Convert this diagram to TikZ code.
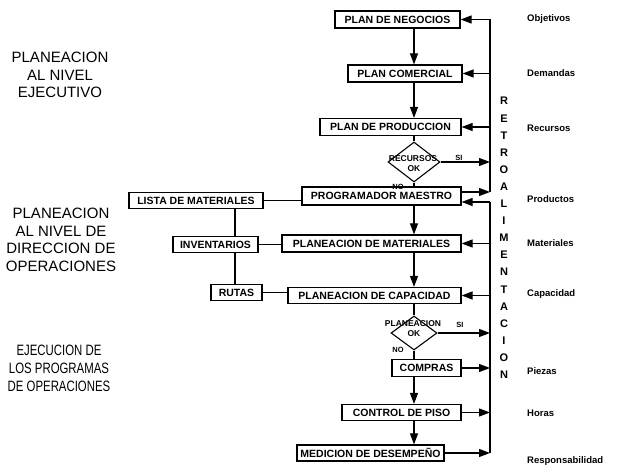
\documentclass[tikz,border=0pt]{standalone}
\usepackage{fontspec}
\usepackage{graphicx}
\setmainfont{Liberation Sans}
\usetikzlibrary{arrows.meta,shapes.geometric}
\begin{document}
\begin{tikzpicture}[x=1pt,y=-1pt,
  box/.style={draw,line width=1.2pt,inner sep=0pt,font=\bfseries\fontsize{10.5}{12}\selectfont},
  bx/.style 2 args={box,minimum width=#1pt,minimum height=#2pt},
  arr/.style={line width=1.1pt,-{Triangle[length=11pt,width=8pt]}},
  ln/.style={line width=1.1pt},
  dia/.style={draw,line width=1.1pt,shape=diamond,inner sep=0pt},
  small/.style={font=\bfseries\fontsize{8.5}{9}\selectfont,inner sep=0pt},
  tiny/.style={font=\bfseries\fontsize{7.5}{8}\selectfont,inner sep=0pt},
  side/.style={font=\bfseries\fontsize{9.5}{11}\selectfont,anchor=west,inner sep=0pt},
  lvl/.style={align=center,font=\fontsize{15}{17.5}\selectfont,inner sep=0pt}]
\useasboundingbox (0,0) rectangle (618,468);

% main column
\node[bx={125}{17}] (neg) at (397.5,19.5) {PLAN DE NEGOCIOS};
\node[bx={114}{17}] (com) at (405,73.5) {PLAN COMERCIAL};
\node[bx={141}{17}] (prod) at (390.5,127) {PLAN DE PRODUCCION};
\node[dia,minimum width=52pt,minimum height=40pt] (d1) at (414,162) {};
\node[bx={159}{18}] (prog) at (381.5,196) {PROGRAMADOR MAESTRO};
\node[bx={179}{17}] (mat) at (371.5,243.5) {PLANEACION DE MATERIALES};
\node[bx={173}{16}] (cap) at (374.5,295.5) {PLANEACION DE CAPACIDAD};
\node[dia,minimum width=46pt,minimum height=34pt] (d2) at (414,333) {};
\node[bx={69}{17}] (compras) at (426.5,368) {COMPRAS};
\node[bx={119}{16}] (control) at (401.5,412.5) {CONTROL DE PISO};
\node[bx={147}{16}] (med) at (370.5,453) {MEDICION DE DESEMPEÑO};

% left column
\node[bx={134}{16}] (lista) at (196,200.5) {LISTA DE MATERIALES};
\node[bx={85}{16}] (inv) at (215.5,244.5) {INVENTARIOS};
\node[bx={51}{16}] (rutas) at (236.5,292.5) {RUTAS};

% diamond texts
\node[small] (r1) at (413,159) {RECURSOS};
\node[small] (r2) at (414,169) {OK};
\node[tiny] (si1) at (459,158) {SI};
\node[tiny] (no1) at (398,187) {NO};
\node[small] (p1) at (413,324) {PLANEACION};
\node[small] (p2) at (414,333.5) {OK};
\node[tiny] (si2) at (460,325) {SI};
\node[tiny] (no2) at (398,350) {NO};

% coordinates
\coordinate (col) at (414,0);
\coordinate (vx) at (235,0);
\coordinate (fbT) at (490,19.5);
\coordinate (fbA) at (490,192);
\coordinate (fbB) at (490,202);
\coordinate (fbE) at (490,453);

% vertical flow
\draw[arr] (neg.south -| col) -- (com.north -| col);
\draw[arr] (com.south -| col) -- (prod.north -| col);
\draw[ln] (prod.south -| col) -- (d1.north);
\draw[ln] (d1.south) -- (prog.north -| col);
\draw[arr] (prog.south -| col) -- (mat.north -| col);
\draw[arr] (mat.south -| col) -- (cap.north -| col);
\draw[ln] (cap.south -| col) -- (d2.north);
\draw[ln] (d2.south) -- (compras.north -| col);
\draw[arr] (compras.south -| col) -- (control.north -| col);
\draw[arr] (control.south -| col) -- (med.north -| col);

% left connections
\draw[ln] (lista.east) -- (lista.east -| prog.west);
\draw[ln] (inv.east) -- (inv.east -| mat.west);
\draw[ln] (rutas.east) -- (rutas.east -| cap.west);
\draw[ln] (lista.south -| vx) -- (inv.north -| vx);
\draw[ln] (inv.south -| vx) -- (rutas.north -| vx);

% feedback
\draw[ln] (fbT) -- (fbA);
\draw[ln] (fbB) -- (fbE);
\draw[arr] (fbT) -- (neg.east);
\draw[arr] (com.east -| fbT) -- (com.east);
\draw[arr] (prod.east -| fbT) -- (prod.east);
\draw[arr] (d1.east) -- (d1.east -| fbT);
\draw[arr] ([yshift=4pt]prog.east) -- (fbA);
\draw[arr] (fbB) -- ([yshift=-6pt]prog.east);
\draw[arr] (mat.east -| fbB) -- (mat.east);
\draw[arr] (cap.east -| fbB) -- (cap.east);
\draw[arr] (d2.east) -- (d2.east -| fbB);
\draw[arr] (compras.east) -- (compras.east -| fbB);
\draw[arr] (control.east) -- (control.east -| fbB);
\draw[arr] (med.east) -- (fbE);

\node[align=center,font=\bfseries\fontsize{11}{17.1}\selectfont,inner sep=0pt] (retro) at (504,238)
 {R\\E\\T\\R\\O\\A\\L\\I\\M\\E\\N\\T\\A\\C\\I\\O\\N};

% right labels
\node[side] (o1) at (527,19) {Objetivos};
\node[side] (o2) at (527,73) {Demandas};
\node[side] (o3) at (527,128) {Recursos};
\node[side] (o4) at (527,199) {Productos};
\node[side] (o5) at (527,243) {Materiales};
\node[side] (o6) at (527,294) {Capacidad};
\node[side] (o7) at (527,371) {Piezas};
\node[side] (o8) at (527,413) {Horas};
\node[side] (o9) at (527,461) {Responsabilidad};

% left level labels
\node[lvl] (l1) at (60,75) {PLANEACION\\AL NIVEL\\EJECUTIVO};
\node[lvl] (l2) at (61,240) {PLANEACION\\AL NIVEL DE\\DIRECCION DE\\OPERACIONES};
\node[inner sep=0pt,font=\fontsize{15}{18}\selectfont] (l3) at (59,370)
 {\scalebox{0.76}[1]{\begin{tabular}{@{}c@{}}EJECUCION DE\\LOS PROGRAMAS\\DE OPERACIONES\end{tabular}}};
\end{tikzpicture}
\end{document}
